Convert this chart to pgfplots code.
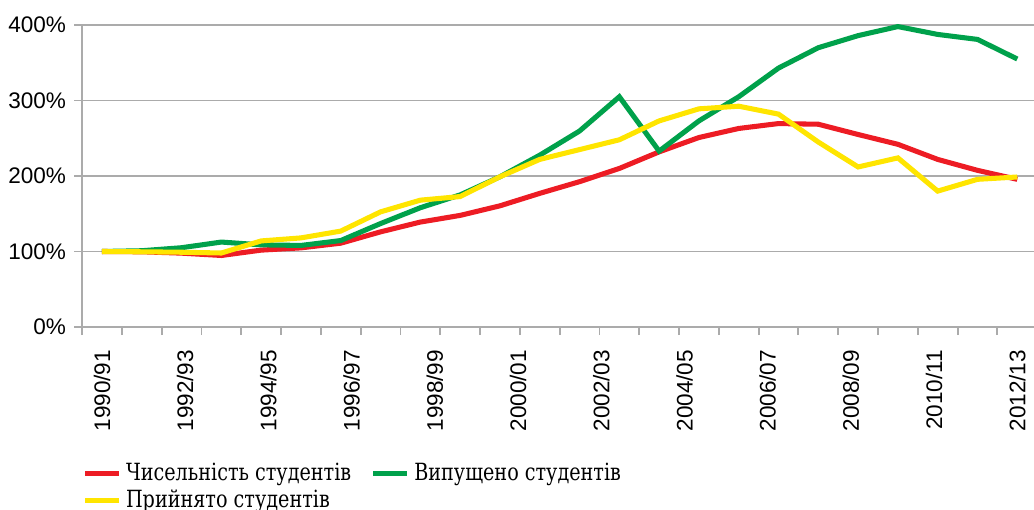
\documentclass[border=0pt]{standalone}
\usepackage{fontspec}
\setmainfont{Liberation Sans}
\newfontfamily\legfont[FakeStretch=0.81]{DejaVu Serif}
\usepackage{pgfplots}
\pgfplotsset{compat=1.18}
\usepackage{pgfplotstable}

\definecolor{cred}{HTML}{ED1C24}
\definecolor{cgreen}{HTML}{00A14B}
\definecolor{cyellow}{HTML}{FFE500}
\definecolor{axgray}{HTML}{ABABAB}

% 24 points, 1990/91 onward
\pgfplotstableread{
i  enrolled graduated admitted
0  100.0  100.0  100.0
1   99.6  101.0   99.6
2   97.8  105.0   99.0
3   94.7  112.5   98.0
4  101.8  108.8  114.0
5  104.8  108.0  118.0
6  111.0  114.5  127.0
7  126.0  137.0  152.5
8  139.0  158.0  168.0
9  147.8  175.0  172.8
10 160.5  199.0  199.0
11 177.0  227.6  222.0
12 192.5  259.6  235.0
13 210.0  305.0  248.0
14 232.0  233.0  273.0
15 251.0  273.0  289.0
16 263.0  305.0  292.5
17 269.5  343.0  282.0
18 268.6  370.0  245.0
19 255.0  386.0  212.0
20 242.0  398.0  224.0
21 222.0  387.6  180.0
22 207.5  381.0  195.6
23 195.6  355.0  198.7
}\students

\begin{document}
\begin{tikzpicture}
\begin{axis}[
    scale only axis,
    width=414pt, height=131.3pt,
    xmin=-0.5, xmax=23.42,
    ymin=0, ymax=400,
    axis x line*=bottom, axis y line*=left,
    axis line style={draw=axgray, line width=0.8pt},
    ytick={0,100,200,300,400},
    yticklabel={\pgfmathprintnumber{\tick}\%},
    ymajorgrids,
    grid style={draw=axgray, line width=0.8pt},
    tick align=outside,
    major tick length=3.5pt,
    tick style={draw=axgray, line width=0.8pt},
    xtick={0,2.0909,4.1818,6.2727,8.3636,10.4545,12.5455,14.6364,16.7273,18.8182,20.9091,23},
    xticklabels={1990/91,1992/93,1994/95,1996/97,1998/99,2000/01,2002/03,2004/05,2006/07,2008/09,2010/11,2012/13},
    xtick style={draw=none},
    extra x ticks={-0.5,0.5,1.5,2.5,3.5,4.5,5.5,6.5,7.5,8.5,9.5,10.5,11.5,12.5,13.5,14.5,15.5,16.5,17.5,18.5,19.5,20.5,21.5,22.5},
    extra x tick labels={},
    extra x tick style={xtick style={draw=axgray, line width=0.8pt}, grid=none},
    xticklabel shift=3pt,
    x tick label style={rotate=90, anchor=east, font=\fontsize{9.8}{11}\selectfont},
    y tick label style={font=\fontsize{9.8}{11}\selectfont},
    /pgf/number format/assume math mode=true,
    legend columns=2,
    legend cell align=left,
    legend style={draw=none, fill=none, at={(0,-0.42)}, anchor=north west, xshift=-3pt,
        font=\legfont\fontsize{10.3}{12}\selectfont, row sep=-1.5pt,
        /tikz/every even column/.append style={column sep=6.5pt}},
    legend image code/.code={\draw[#1] (0pt,0pt) -- (14.7pt,0pt);},
    clip=false,
]
\addplot[cred, line width=2.2pt] table[x=i, y=enrolled] {\students};
\addplot[cgreen, line width=2.2pt] table[x=i, y=graduated] {\students};
\addplot[cyellow, line width=2.2pt] table[x=i, y=admitted] {\students};
\legend{Чисельність студентів, Випущено студентів, Прийнято студентів}
\end{axis}
\pgfresetboundingbox
\path ([xshift=-35.7pt, yshift=-79.6pt]current axis.south west) rectangle ([yshift=10.9pt]current axis.north east);
\end{tikzpicture}
\end{document}
